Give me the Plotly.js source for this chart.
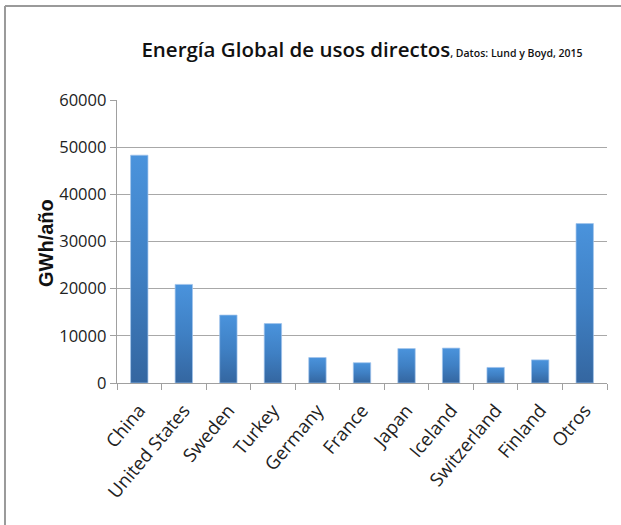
<!DOCTYPE html>
<html>
<head>
<meta charset="utf-8">
<script src="https://cdn.plot.ly/plotly-3.0.1.min.js"></script>
<style>
  html, body { margin: 0; padding: 0; background: #ffffff; }
  #chart { width: 621px; height: 525px; }
</style>
</head>
<body>
<div id="chart"></div>
<script>
// Direct-use geothermal energy by country (GWh/año)
const countries = ["China", "United States", "Sweden", "Turkey", "Germany", "France",
                   "Japan", "Iceland", "Switzerland", "Finland", "Otros"];
const energyGWh = [48300, 20900, 14400, 12600, 5400, 4300, 7300, 7400, 3300, 4900, 33800];
const yTickValues = [0, 10000, 20000, 30000, 40000, 50000, 60000];
const yTickLabels = ["0", "10000", "20000", "30000", "40000", "50000", "60000"];
const yAxisLabel = "GWh/año";

const trace = {
  type: "bar",
  x: countries,
  y: energyGWh,
  width: 0.39,
  marker: { color: "#3f7fc3", line: { color: "rgba(160,195,235,0.9)", width: 0.8 } },
  hoverinfo: "x+y"
};

const frameColor = "#9a9a9a";

const layout = {
  width: 621,
  height: 525,
  margin: { l: 117, r: 14, t: 100, b: 142 },
  paper_bgcolor: "#ffffff",
  plot_bgcolor: "#ffffff",
  showlegend: false,
  title: {
    text: "Energía Global de usos directos<span style='font-size:10.5px'>, Datos: Lund y Boyd, 2015</span>",
    font: { family: "Open Sans, sans-serif", size: 20.5, color: "#111111", weight: 600 },
    x: 0.5, xref: "paper", xanchor: "center",
    y: 50, yref: "container", yanchor: "middle"
  },
  xaxis: {
    type: "category",
    tickangle: -50,
    tickfont: { family: "Open Sans, sans-serif", size: 18.5, color: "#222222" },
    ticks: "outside",
    tickson: "boundaries",
    ticklen: 6,
    tickcolor: "#a0a0a0",
    tickwidth: 1,
    ticklabelstandoff: 8,
    showline: true,
    linecolor: "#a0a0a0",
    linewidth: 1.3,
    showgrid: false,
    fixedrange: true
  },
  yaxis: {
    range: [0, 60000],
    tickvals: yTickValues,
    ticktext: yTickLabels,
    tickfont: { family: "Open Sans, sans-serif", size: 16.5, color: "#222222" },
    ticks: "outside",
    ticklen: 6,
    tickcolor: "#a0a0a0",
    showline: true,
    linecolor: "#a0a0a0",
    linewidth: 1.3,
    showgrid: true,
    gridcolor: "#a8a8a8",
    gridwidth: 1.3,
    zeroline: false,
    fixedrange: true
  },
  annotations: [
    // vertical axis label, set close against the tick labels
    { text: yAxisLabel, textangle: -90, showarrow: false,
      xref: "paper", yref: "paper", x: -0.1449, y: 0.4947,
      xanchor: "center", yanchor: "middle",
      font: { family: "Liberation Sans, Arial, sans-serif", size: 20, color: "#111111", weight: "bold" } }
  ],
  shapes: [
    // outer frame: top and left edges
    { type: "line", xref: "paper", yref: "paper",
      x0: -0.2286, x1: 1.04, y0: 1.3322, y1: 1.3322,
      line: { color: frameColor, width: 2 } },
    { type: "line", xref: "paper", yref: "paper",
      x0: -0.2286, x1: -0.2286, y0: 1.3322, y1: -0.51,
      line: { color: frameColor, width: 2 } }
  ]
};

Plotly.newPlot("chart", [trace], layout, { displayModeBar: false, staticPlot: true }).then(function (gd) {
  // vertical light-to-dark gradient on the bars
  const svg = gd.querySelector("svg.main-svg");
  const ns = "http://www.w3.org/2000/svg";
  let defs = svg.querySelector("defs");
  if (!defs) { defs = document.createElementNS(ns, "defs"); svg.insertBefore(defs, svg.firstChild); }
  const grad = document.createElementNS(ns, "linearGradient");
  grad.setAttribute("id", "barShade");
  grad.setAttribute("x1", "0"); grad.setAttribute("y1", "0");
  grad.setAttribute("x2", "0"); grad.setAttribute("y2", "1");
  [["0", "#4a93dc"], ["0.5", "#3f80c4"], ["1", "#3466a0"]].forEach(function (s) {
    const stop = document.createElementNS(ns, "stop");
    stop.setAttribute("offset", s[0]);
    stop.setAttribute("stop-color", s[1]);
    grad.appendChild(stop);
  });
  defs.appendChild(grad);
  gd.querySelectorAll(".bars .point path").forEach(function (p) {
    p.style.fill = "url(#barShade)";
  });
});
</script>
</body>
</html>
